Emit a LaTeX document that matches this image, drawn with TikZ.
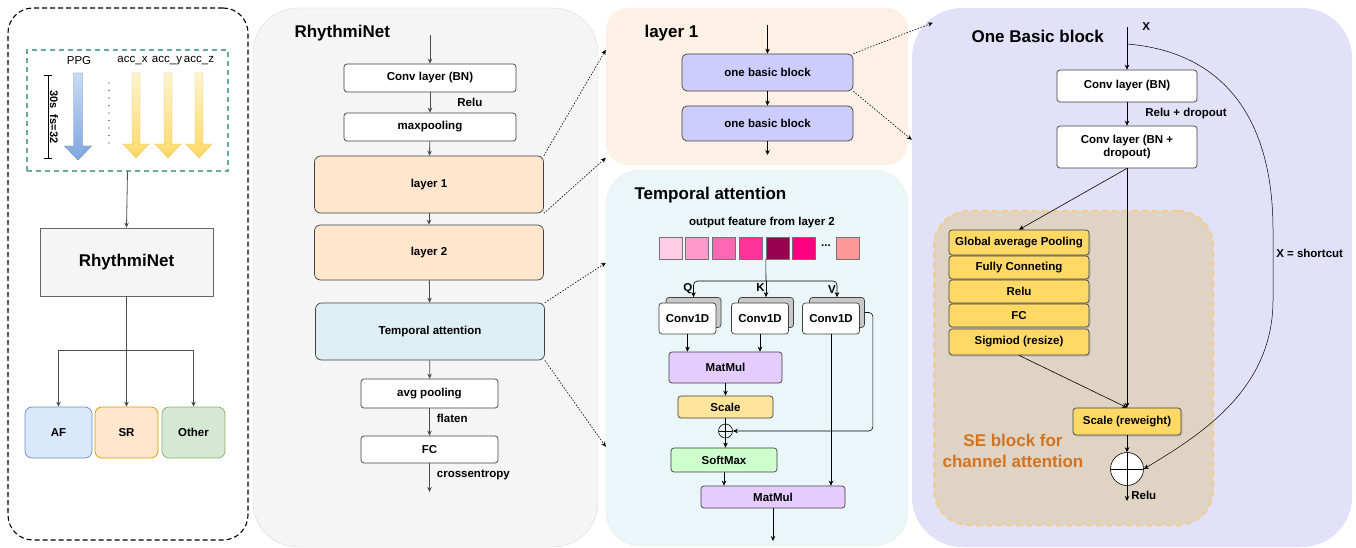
\documentclass[tikz,border=0pt]{standalone}
\usepackage{fontspec}
\setmainfont{Liberation Sans}
\usetikzlibrary{arrows.meta,shadows}

% fills and strokes
\definecolor{paleGray}{HTML}{F5F5F5}
\definecolor{panelLine}{HTML}{D8D8D8}
\definecolor{tealLine}{HTML}{67AB9F}
\definecolor{ppgTop}{HTML}{C9DAF3}
\definecolor{ppgBot}{HTML}{7EA6E0}
\definecolor{ppgLine}{HTML}{6C8EBF}
\definecolor{accTop}{HTML}{FFF4CF}
\definecolor{accBot}{HTML}{FFD966}
\definecolor{accLine}{HTML}{E6C35C}
\definecolor{afFill}{HTML}{DAE8FC}
\definecolor{afLine}{HTML}{6C8EBF}
\definecolor{srFill}{HTML}{FFE6CC}
\definecolor{srLine}{HTML}{D79B00}
\definecolor{otFill}{HTML}{D5E8D4}
\definecolor{otLine}{HTML}{82B366}
\definecolor{layerFill}{HTML}{FFE6CC}
\definecolor{attnFill}{HTML}{DDEFF5}
\definecolor{peachPanel}{HTML}{FDF0E4}
\definecolor{attnPanel}{HTML}{EAF6F8}
\definecolor{blockPanel}{HTML}{E1E1FA}
\definecolor{bbFill}{HTML}{CCCCFF}
\definecolor{mmFill}{HTML}{E5CCFF}
\definecolor{scaleFill}{HTML}{FFE599}
\definecolor{softFill}{HTML}{CCFFCC}
\definecolor{stackGray}{HTML}{C8C8C8}
\definecolor{seTan}{HTML}{DFD3C3}
\definecolor{seLine}{HTML}{F0CC8E}
\definecolor{seYellow}{HTML}{FFD966}
\definecolor{seOrange}{HTML}{D4731F}
\definecolor{pinkA}{HTML}{FFCCE6}
\definecolor{pinkB}{HTML}{FF99CC}
\definecolor{pinkC}{HTML}{FF66B3}
\definecolor{pinkD}{HTML}{FF3399}
\definecolor{pinkE}{HTML}{99004D}
\definecolor{pinkF}{HTML}{FF0080}
\definecolor{pinkG}{HTML}{FF9999}

\tikzset{
  >={Stealth[length=5pt,width=4.5pt]},
  every node/.style={font=\bfseries\fontsize{11.5}{13.5}\selectfont},
  panel/.style={rectangle, inner sep=0pt},
  title/.style={anchor=west, font=\bfseries\fontsize{17}{20}\selectfont},
  blk/.style={draw=black!75, line width=0.7pt, rounded corners=3pt, align=center, inner sep=1pt},
  layerblk/.style={blk, rounded corners=6pt, minimum width=229pt},
  cls/.style={draw=#1, line width=0.7pt, rounded corners=7pt, minimum width=63pt, minimum height=51pt},
  flow/.style={->, draw=black!70, line width=0.8pt},
  wire/.style={->, line width=0.6pt},
  link/.style={->, dash pattern=on 1.5pt off 1.5pt, line width=0.6pt},
  oplus/.style={draw, circle, inner sep=0pt, minimum size=#1, line width=0.6pt,
    path picture={\draw[line width=0.6pt] (path picture bounding box.north) -- (path picture bounding box.south)
      (path picture bounding box.west) -- (path picture bounding box.east);}},
  convback/.style={blk, fill=stackGray, minimum width=55pt, minimum height=30pt},
  convfront/.style={blk, fill=white, minimum width=57pt, minimum height=31pt},
  seblk/.style={blk, fill=seYellow, minimum width=140pt,
    drop shadow={opacity=0.25, shadow xshift=1.5pt, shadow yshift=-1.5pt}},
  lbl/.style={inner sep=1pt},
}

\begin{document}
\begin{tikzpicture}[x=1pt, y=-1pt]
    \useasboundingbox (0,0) rectangle (1356,548);

    % ---- overview column ----
    \node[panel, draw=black, line width=1.1pt, dash pattern=on 5pt off 3pt, rounded corners=25pt,
          minimum width=240pt, minimum height=532pt] (overview) at (128,274) {};
    \node[panel, draw=tealLine, line width=1.2pt, dash pattern=on 5pt off 4pt,
          minimum width=201pt, minimum height=121pt] (inputs) at (127.5,110.5) {};
    \node[font=\fontsize{11.5}{13}\selectfont] (ppg) at (79,61) {PPG};
    \foreach \cx/\ax in {132.5/x,167/y,199/z}
        \node[font=\fontsize{11.5}{13}\selectfont, inner sep=0pt] (acc\ax) at (\cx,61) {acc\_\ax};
    \shadedraw[top color=ppgTop, bottom color=ppgBot, draw=ppgLine, line width=0.4pt]
        (73.5,73) -- (82.5,73) -- (82.5,146) -- (91.5,146) -- (78,160) -- (64.5,146) -- (73.5,146) -- cycle;
    \foreach \cx in {136,168,199}
        \shadedraw[top color=accTop, bottom color=accBot, draw=accLine, line width=0.4pt]
            (\cx-4,73) -- (\cx+4,73) -- (\cx+4,144) -- (\cx+13,144) -- (\cx,158) -- (\cx-13,144) -- (\cx-4,144) -- cycle;
    \draw[line width=0.8pt] (44,75) -- (52,75) (48,75) -- (48,158) (44,158) -- (52,158);
    \node[rotate=-90, font=\bfseries\fontsize{11}{13}\selectfont] (span) at (54,117) {30s\hspace{6pt}fs=32};
    \draw[line width=1.3pt, line cap=round, dash pattern=on 0pt off 7.5pt] (109,83) -- (109,146);

    \node[draw=black!60, fill=paleGray, line width=0.7pt, minimum width=173pt, minimum height=68pt,
          font=\bfseries\fontsize{17}{20}\selectfont] (rnet) at (126.5,262) {RhythmiNet};
    \node[cls=afLine, fill=afFill, minimum width=67pt] (af) at (58.5,432.5) {AF};
    \node[cls=srLine, fill=srFill] (sr) at (126.5,432.5) {SR};
    \node[cls=otLine, fill=otFill] (other) at (193.5,432.5) {Other};
    \coordinate (fork) at (126.5,350);

    \draw[flow] (inputs.south) -- (rnet.north);
    \draw[flow] (rnet.south) -- (sr.north);
    \draw[flow] (fork) -| (af.north);
    \draw[flow] (fork) -| (other.north);

    % ---- RhythmiNet column ----
    \node[panel, fill=paleGray, draw=panelLine, rounded corners=45pt,
          minimum width=345pt, minimum height=539pt] (netpanel) at (425.5,277.5) {};
    \node[title] at (291,33) {RhythmiNet};
    \coordinate (netin) at (430,35);
    \node[blk, fill=white, minimum width=172pt, minimum height=28pt] (conv) at (430,78) {Conv layer (BN)};
    \node[blk, fill=white, minimum width=172pt, minimum height=28pt] (maxpool) at (430,127) {maxpooling};
    \node[layerblk, fill=layerFill, minimum height=57pt] (layerA) at (429,184.5) {layer 1};
    \node[layerblk, fill=layerFill, minimum height=55pt] (layerB) at (429,252.5) {layer 2};
    \node[layerblk, fill=attnFill, minimum height=57pt] (tatt) at (430,331.5) {Temporal attention};
    \node[blk, fill=white, minimum width=137pt, minimum height=29pt] (avgpool) at (429.5,393.5) {avg pooling};
    \node[blk, fill=white, minimum width=137pt, minimum height=27pt] (fc) at (429.5,449.5) {FC};
    \coordinate (netout) at (429.5,492);

    \draw[flow] (netin) -- (conv.north);
    \draw[flow] (conv) -- node[lbl, anchor=west, xshift=26pt]{Relu} (maxpool);
    \draw[flow] (maxpool) -- (layerA);
    \draw[flow] (layerA) -- (layerB);
    \draw[flow] (layerB) -- (tatt);
    \draw[flow] (tatt) -- (avgpool);
    \draw[flow] (avgpool) -- node[lbl, pos=0.35, anchor=west, xshift=6pt]{flaten} (fc);
    \draw[flow] (fc) -- node[lbl, pos=0.4, anchor=west, xshift=6pt]{crossentropy} (netout);

    % ---- layer 1 ----
    \node[panel, fill=peachPanel, rounded corners=22pt,
          minimum width=302pt, minimum height=157pt] (layerpanel) at (757,86.5) {};
    \node[title] at (641,33) {layer 1};
    \coordinate (l1in) at (767.5,25);
    \node[blk, fill=bbFill, rounded corners=5pt, minimum width=171pt, minimum height=37pt] (bb1) at (767.5,72.5) {one basic block};
    \node[blk, fill=bbFill, rounded corners=5pt, minimum width=171pt, minimum height=35pt] (bb2) at (767.5,123.5) {one basic block};
    \coordinate (l1out) at (767.5,155);
    \draw[wire] (l1in) -- (bb1);
    \draw[wire] (bb1) -- (bb2);
    \draw[wire] (bb2) -- (l1out);

    % ---- temporal attention ----
    \node[panel, fill=attnPanel, draw=panelLine!60, rounded corners=35pt,
          minimum width=302pt, minimum height=376pt] (attnpanel) at (757,358) {};
    \node[title] at (631,195) {Temporal attention};
    \node (feat) at (762,223) {output feature from layer 2};
    \foreach \cx/\col [count=\i] in {670.5/pinkA,697/pinkB,723.5/pinkC,750.5/pinkD,777.5/pinkE,804/pinkF,847.5/pinkG}
        \node[draw=black!55, fill=\col, inner sep=0pt, minimum width=23pt, minimum height=22pt] (sq\i) at (\cx,248) {};
    \node (sqdots) at (826,246) {...};
    \coordinate (qkv) at (766,281);

    \foreach \nm/\cx in {q/687.5,k/760,v/831} {
        \node[convback] (\nm back) at (\cx+6,312.5) {};
        \node[convfront] (\nm conv) at (\cx,318.5) {Conv1D};
    }
    \node[blk, fill=mmFill, minimum width=113pt, minimum height=31pt] (mm1) at (725.5,367.5) {MatMul};
    \node[blk, fill=scaleFill, minimum width=95pt, minimum height=22pt] (scale) at (725.5,407) {Scale};
    \node[oplus=14pt] (plus) at (725.5,431) {};
    \node[blk, fill=softFill, minimum width=106pt, minimum height=24pt] (softmax) at (724,460) {SoftMax};
    \node[blk, fill=mmFill, minimum width=144pt, minimum height=22pt] (mm2) at (773,497) {MatMul};
    \coordinate (attnout) at (773,541);

    \draw[line width=0.6pt] (sq5.south west) -- (qkv);
    \draw[wire, rounded corners=4pt] (qkv) -| node[lbl, pos=0.75, anchor=east]{Q} (qback.north);
    \draw[wire] (qkv) -- node[lbl, pos=0.4, anchor=east]{K} (kback.north);
    \draw[wire, rounded corners=4pt] (qkv) -| node[lbl, pos=0.75, anchor=east]{V} (vback.north);
    \draw[wire] (qconv.south) -- (qconv.south |- mm1.north);
    \draw[wire] (kconv.south) -- (kconv.south |- mm1.north);
    \draw[wire] (mm1) -- (scale);
    \draw[line width=0.6pt] (scale) -- (plus);
    \draw[wire] (plus) -- (plus |- softmax.north);
    \draw[wire] (softmax.south) -- (softmax.south |- mm2.north);
    \draw[wire] (vconv.south) -- (vconv.south |- mm2.north);
    \draw[wire, rounded corners=4pt] (vback.east) -- ++(8,0) |- (plus.east);
    \draw[wire] (mm2) -- (attnout);

    % ---- one basic block ----
    \node[panel, fill=blockPanel, rounded corners=50pt,
          minimum width=440pt, minimum height=539pt] (blockpanel) at (1132,277.5) {};
    \node[title] at (968,36) {One Basic block};
    \node[panel, fill=seTan, draw=seLine, line width=2pt, dash pattern=on 6pt off 4pt, rounded corners=35pt,
          minimum width=279pt, minimum height=314pt] (sepanel) at (1073.5,368) {};
    \node[font=\bfseries\fontsize{17}{21}\selectfont, text=seOrange, align=center] (setext) at (1013,451)
        {SE block for\\channel attention};

    \coordinate (bin) at (1127,27);
    \coordinate (skip) at (1127,44);
    \node[blk, fill=white, minimum width=140pt, minimum height=32pt] (bconv1) at (1127,86) {Conv layer (BN)};
    \node[blk, fill=white, minimum width=140pt, minimum height=42pt] (bconv2) at (1127,147) {Conv layer (BN +\\dropout)};
    \node[seblk, minimum height=25pt] (gap) at (1019,242.5) {Global average Pooling};
    \node[seblk, minimum height=23pt] (fcon) at (1019,267.5) {Fully Conneting};
    \node[seblk, minimum height=23pt] (serelu) at (1019,291.5) {Relu};
    \node[seblk, minimum height=23pt] (sefc) at (1019,315.5) {FC};
    \node[seblk, minimum height=26pt] (sig) at (1019,342) {Sigmiod (resize)};
    \node[seblk, minimum width=108pt, minimum height=27pt] (rew) at (1127,421.5) {Scale (reweight)};
    \node[oplus=33pt, fill=white] (add) at (1127,469) {};
    \coordinate (bout) at (1127,501);

    \draw[wire] (bin) -- node[lbl, at start, anchor=west, xshift=14pt]{X} (bconv1);
    \draw[wire] (bconv1) -- node[lbl, anchor=west, xshift=17pt]{Relu + dropout} (bconv2);
    \draw[wire] (bconv2.south) -- (rew.north);
    \draw[wire] (bconv2.south) -- (gap.north);
    \draw[wire] (sig.south) -- (rew.north);
    \draw[wire] (rew) -- (add);
    \draw[wire] (add) -- node[lbl, pos=0.6, anchor=west, xshift=3pt]{Relu} (bout);
    \draw[wire, line width=0.5pt] (skip) .. controls (1225,52) and (1273,120) .. (1273,230)
        -- node[lbl, pos=0.34, anchor=west, xshift=2pt]{X = shortcut} (1273,300)
        .. controls (1273,390) and (1200,435) .. (add.east);

    % ---- zoom links ----
    \draw[link] (layerA.north east) -- ([yshift=-42pt]layerpanel.north west);
    \draw[link] (layerA.south east) -- ([yshift=-150pt]layerpanel.north west);
    \draw[link] (tatt.north east) -- ([yshift=-93pt]attnpanel.north west);
    \draw[link] (tatt.south east) -- ([yshift=-277pt]attnpanel.north west);
    \draw[link] (bb1.north east) -- ([xshift=21pt,yshift=-15pt]blockpanel.north west);
    \draw[link] (bb1.south east) -- ([yshift=-132pt]blockpanel.north west);
\end{tikzpicture}
\end{document}
